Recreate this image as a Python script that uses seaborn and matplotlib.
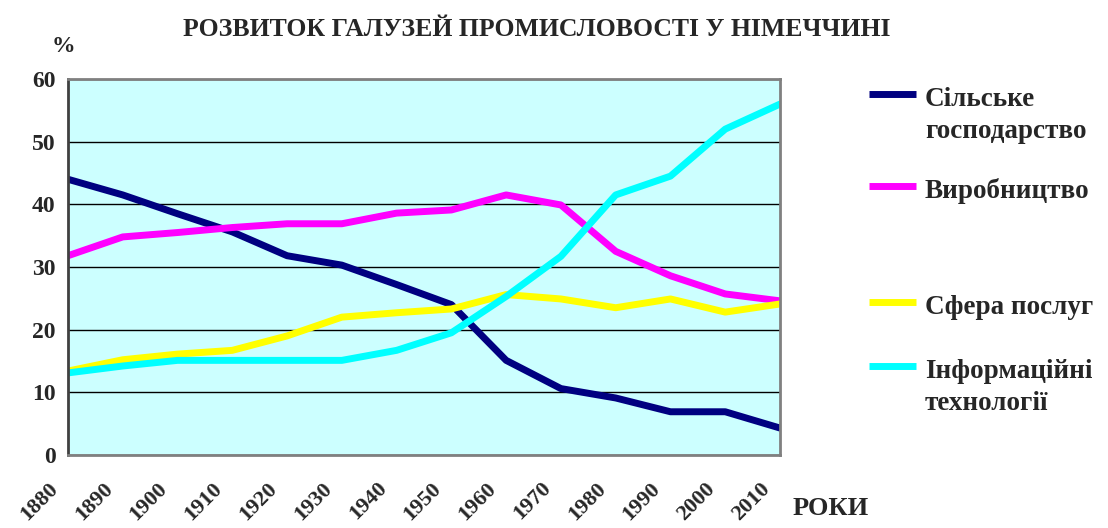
import matplotlib
matplotlib.use("Agg")
import matplotlib.pyplot as plt
import matplotlib.transforms as mtransforms
import seaborn as sns
import pandas as pd

# Дані (%)
roky = [1880, 1890, 1900, 1910, 1920, 1930, 1940, 1950, 1960, 1970, 1980, 1990, 2000, 2010]
silske = [44.0, 41.5, 38.5, 35.6, 31.8, 30.3, 27.2, 24.0, 15.1, 10.6, 9.1, 6.9, 6.9, 4.3]
vyrobnytstvo = [31.8, 34.8, 35.5, 36.3, 36.9, 36.9, 38.6, 39.1, 41.5, 39.9, 32.5, 28.6, 25.7, 24.6]
posluhy = [13.4, 15.2, 16.1, 16.7, 19.0, 22.0, 22.7, 23.3, 25.6, 24.9, 23.5, 24.9, 22.8, 24.1]
it = [13.1, 14.2, 15.1, 15.1, 15.1, 15.1, 16.7, 19.5, 25.3, 31.7, 41.5, 44.5, 52.0, 56.0]

nazvy = ["Сільське\nгосподарство", "Виробництво", "Сфера послуг", "Інформаційні\nтехнології"]
kolory = ["#000080", "#FF00FF", "#FFFF00", "#00FFFF"]

df = pd.concat([
    pd.DataFrame({"rik": roky, "vidsotok": znach, "galuz": nazva})
    for znach, nazva in zip([silske, vyrobnytstvo, posluhy, it], nazvy)
])

sns.set_style("white")
plt.rcParams["font.family"] = ["Liberation Serif", "DejaVu Serif"]
plt.rcParams["font.weight"] = "bold"

W, H = 1108, 528
fig = plt.figure(figsize=(W / 100, H / 100), dpi=100)
ax = fig.add_axes([68 / W, 1 - 455 / H, 712 / W, 376 / H])
ax.set_facecolor("#CCFFFF")

sns.lineplot(data=df, x="rik", y="vidsotok", hue="galuz", palette=kolory,
             hue_order=nazvy, linewidth=5, ax=ax, legend=False)

ax.set_xlim(1880, 2010)
ax.set_ylim(0, 60)
ax.set_yticks(range(0, 61, 10))
ax.set_xticks(roky)
ax.set_xticklabels([str(r) for r in roky], rotation=45, ha="right", va="center",
                   rotation_mode="anchor", fontsize=16, fontweight="bold")
ax.set_yticklabels([str(v) for v in range(0, 61, 10)], fontsize=17, fontweight="bold")
ax.tick_params(axis="x", direction="out", length=5, width=1, color="#555555", pad=17)
ax.tick_params(axis="y", direction="out", length=5, width=1, color="black", pad=4)
# підписи років трохи зсунуті ліворуч від поділок, як в Excel
zsuv = mtransforms.ScaledTranslation(-13 / 100, 0, fig.dpi_scale_trans)
for lbl in ax.get_xticklabels():
    lbl.set_transform(lbl.get_transform() + zsuv)
ax.grid(axis="y", color="black", linewidth=1)
ax.set_axisbelow(True)
ax.set_xlabel("")
ax.set_ylabel("")

for side in ["top", "right", "bottom"]:
    ax.spines[side].set_color("#808080")
    ax.spines[side].set_linewidth(2)
ax.spines["left"].set_color("#404040")
ax.spines["left"].set_linewidth(2)

fig.text(537 / W, 1 - 29 / H, "РОЗВИТОК ГАЛУЗЕЙ ПРОМИСЛОВОСТІ У НІМЕЧЧИНІ",
         ha="center", va="center", fontsize=18.5, fontweight="bold")
fig.text(63 / W, 1 - 47 / H, "%", ha="center", va="center", fontsize=17, fontweight="bold")
fig.text(793 / W, 1 - 515 / H, "РОКИ", ha="left", va="baseline", fontsize=19, fontweight="bold")

# легенда вручну: маркер на рівні першого рядка підпису
leg_y = [94, 186, 302, 366]
for c, nazva, py in zip(kolory, nazvy, leg_y):
    fig.add_artist(plt.Line2D([869 / W, 916 / W], [1 - py / H, 1 - py / H],
                              color=c, linewidth=5, solid_capstyle="butt"))
    for i, ryadok in enumerate(nazva.split("\n")):
        fig.text(925 / W, 1 - (py + 12 + 32 * i) / H, ryadok, ha="left", va="baseline",
                 fontsize=19.5, fontweight="bold")

fig.savefig("out.png", dpi=100)
